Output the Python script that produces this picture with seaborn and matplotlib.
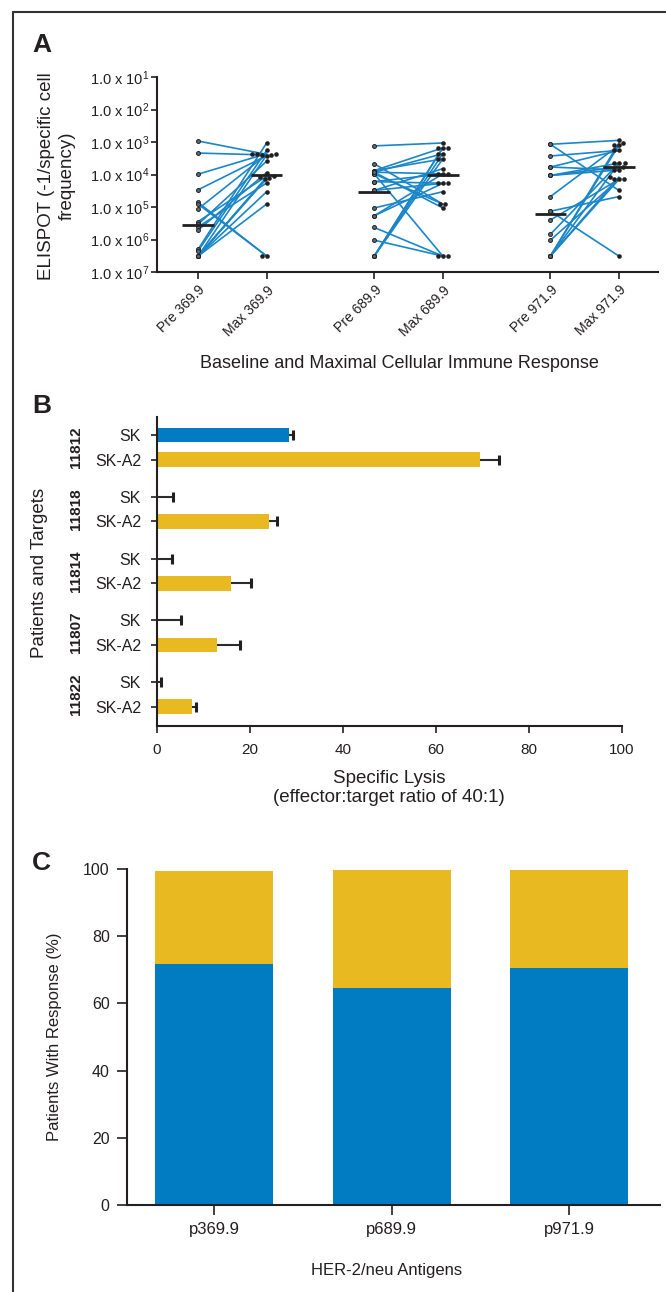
import numpy as np
import pandas as pd
import matplotlib
matplotlib.use("Agg")
import matplotlib.pyplot as plt
from matplotlib.lines import Line2D
import seaborn as sns

# ---------------- Panel A data: log10(1/specific cell frequency) ----------------
antigens_a = ["369.9", "689.9", "971.9"]
pre_369 = [2.97, 3.34, 3.99, 4.47, 4.86, 4.91, 5.06, 5.45, 5.53, 5.61, 5.71, 6.30, 6.35,
           6.51, 6.51, 6.51, 6.51, 6.51, 6.51]
max_369 = [3.38, 3.40, 3.36, 3.42, 6.51, 6.51, 3.38, 4.05, 3.59, 4.26, 3.94, 3.03, 3.26,
           3.40, 4.08, 4.13, 4.53, 4.91, 4.10]
pre_689 = [3.12, 3.67, 3.88, 3.93, 3.93, 3.98, 3.98, 3.88, 4.22, 4.49, 5.03, 5.27, 5.63,
           6.02, 6.51, 6.51, 6.51, 6.51, 4.22, 5.27, 4.49, 3.93]
max_689 = [3.03, 4.91, 3.18, 3.36, 3.98, 6.51, 4.91, 3.52, 4.27, 3.82, 4.53, 4.27, 6.51,
           6.51, 3.18, 3.36, 3.52, 3.18, 3.98, 3.98, 4.27, 5.03]
pre_971 = [3.07, 3.07, 3.43, 3.77, 4.03, 4.03, 4.68, 5.13, 5.13, 5.40, 5.84, 6.02,
           6.51, 6.51, 6.51, 6.51, 6.51, 4.03, 3.77]
max_971 = [2.95, 4.49, 3.26, 3.26, 3.77, 3.65, 3.10, 4.68, 6.51, 4.15, 3.65, 4.15,
           3.03, 3.10, 3.65, 4.08, 4.15, 3.86, 3.86]
pre_mean = [5.55, 4.55, 5.20]
max_mean = [4.03, 4.01, 3.77]
y_exponents = [1, 2, 3, 4, 5, 6, 7]

# ---------------- Panel B data: specific lysis (%) ----------------
patients = ["11812", "11818", "11814", "11807", "11822"]
targets = ["SK", "SK-A2"]
lysis_sk = [28.3, 0.0, 0.0, 0.0, 0.0]
lysis_ska2 = [69.4, 24.0, 15.9, 12.8, 7.5]
err_sk = [1.0, 3.45, 3.3, 5.1, 0.95]
err_ska2 = [4.1, 1.7, 4.4, 5.0, 0.8]
lysis_ticks = [0, 20, 40, 60, 80, 100]

# ---------------- Panel C data: patients with response (%) ----------------
peptides = ["p369.9", "p689.9", "p971.9"]
resp_blue = [71.7, 64.7, 70.6]
resp_yellow = [27.7, 35.0, 29.1]
pct_ticks = [0, 20, 40, 60, 80, 100]

# ---------------- style ----------------
BLUE = "#017cc2"
YELLOW = "#e8b920"
LINE_BLUE = "#1a86c8"
INK = "#231f20"

sns.set_theme(style="ticks")
plt.rcParams["font.family"] = ["Liberation Sans", "DejaVu Sans"]
plt.rcParams["mathtext.fontset"] = "custom"
plt.rcParams["mathtext.rm"] = "Liberation Sans"
plt.rcParams["mathtext.it"] = "Liberation Sans:italic"
plt.rcParams["mathtext.bf"] = "Liberation Sans:bold"
plt.rcParams["mathtext.default"] = "regular"
plt.rcParams["text.color"] = INK
plt.rcParams["axes.edgecolor"] = INK
plt.rcParams["xtick.color"] = INK
plt.rcParams["ytick.color"] = INK
plt.rcParams["axes.linewidth"] = 1.5

W, H = 666, 1292
fig = plt.figure(figsize=(W / 100, H / 100), dpi=100)
fig.patch.set_facecolor("white")


def ax_px(l, t, r, b):
    return fig.add_axes([l / W, 1 - b / H, (r - l) / W, (b - t) / H])


def ftext(x, y, s, **kw):
    return fig.text(x / W, 1 - y / H, s, **kw)


# ================= Panel A =================
axA = ax_px(157, 77, 658, 272)
group_gap = 2.57
pres = [pre_369, pre_689, pre_971]
maxs = [max_369, max_689, max_971]
rows = []
for g, (pr, mx) in enumerate(zip(pres, maxs)):
    for i, (a, b) in enumerate(zip(pr, mx)):
        rows.append(dict(pid=f"{g}_{i}", stage="Pre", x=g * group_gap, y=a))
        rows.append(dict(pid=f"{g}_{i}", stage="Max", x=g * group_gap + 1.0, y=b))
dfA = pd.DataFrame(rows)

sns.lineplot(data=dfA, x="x", y="y", units="pid", estimator=None, sort=False,
             color=LINE_BLUE, lw=1.2, legend=False, ax=axA, zorder=2)
sns.scatterplot(data=dfA[dfA.stage == "Pre"], x="x", y="y", s=8,
                color="#5b6b78", edgecolor="#222222", linewidth=0.7,
                legend=False, ax=axA, zorder=3)
sns.swarmplot(data=dfA[dfA.stage == "Max"], x="x", y="y", native_scale=True,
              size=3.3, color=INK, ax=axA, zorder=3)

pre_x = np.arange(3) * group_gap
max_x = pre_x + 1.0
axA.hlines(pre_mean, pre_x - 0.23, pre_x + 0.23, color=INK, lw=2, zorder=4)
axA.hlines(max_mean, max_x - 0.23, max_x + 0.23, color=INK, lw=2, zorder=4)

axA.set_ylim(7, 1)
axA.set_yticks(y_exponents)
axA.set_yticklabels([rf"1.0 x 10$^{{{e}}}$" for e in y_exponents])
axA.set_xlim(-0.6, 6.71)
xt = np.ravel(np.column_stack([pre_x, max_x]))
axA.set_xticks(xt)
xl = []
for a in antigens_a:
    xl += [f"Pre {a}", f"Max {a}"]
axA.set_xticklabels(xl)
plt.setp(axA.get_xticklabels(), rotation=45, ha="right", va="top", rotation_mode="anchor")
axA.tick_params(axis="y", length=4, width=1.2, pad=1.5, labelsize=10.5)
axA.tick_params(axis="x", length=5, width=1.2, pad=3, labelsize=10)
axA.set_xlabel("")
axA.set_ylabel("")
sns.despine(ax=axA)

# ================= Panel B =================
axB = ax_px(157, 417, 622, 726)
vals = []
for s, a in zip(lysis_sk, lysis_ska2):
    vals += [s, a]
dfB = pd.DataFrame(dict(patient=np.repeat(patients, 2), target=targets * len(patients), value=vals))
sns.barplot(data=dfB, x="value", y="patient", hue="target", order=patients, hue_order=targets,
            palette=[BLUE, YELLOW], orient="h", width=0.8, gap=0.4, saturation=1,
            linewidth=0, errorbar=None, legend=False, ax=axB)
pos = np.arange(len(patients))
for v, e, off in [(lysis_sk, err_sk, -0.2), (lysis_ska2, err_ska2, 0.2)]:
    v = np.asarray(v)
    ends = v + np.asarray(e)
    axB.hlines(pos + off, v, ends, color="#2b2b2b", lw=1.5, zorder=3)
    axB.plot(ends, pos + off, ls="none", marker="|", ms=7, mew=2.2, color=INK, zorder=4)
yt = np.ravel(np.column_stack([pos - 0.2, pos + 0.2]))
axB.set_yticks(yt)
axB.set_yticklabels(targets * len(patients))
axB.set_ylim(4.51, -0.49)
axB.set_xlim(0, 100)
axB.set_xticks(lysis_ticks)
axB.tick_params(axis="y", length=4.5, width=1.2, pad=7, labelsize=11.5)
axB.tick_params(axis="x", length=5, width=1.2, pad=7, labelsize=11)
axB.set_xlabel("")
axB.set_ylabel("")
trB = axB.get_yaxis_transform()
for i, p in enumerate(patients):
    axB.text((76 - 157) / 465, i, p, transform=trB, rotation=90, ha="center", va="center",
             fontsize=11, fontweight="bold", color=INK)
sns.despine(ax=axB)

# ================= Panel C =================
axC = ax_px(127, 869, 660, 1205)
dfC = pd.DataFrame(dict(peptide=peptides, blue=resp_blue,
                        total=np.array(resp_blue) + np.array(resp_yellow)))
sns.barplot(data=dfC, x="peptide", y="total", color=YELLOW, width=0.665, saturation=1,
            linewidth=0, errorbar=None, ax=axC)
sns.barplot(data=dfC, x="peptide", y="blue", color=BLUE, width=0.665, saturation=1,
            linewidth=0, errorbar=None, ax=axC)
axC.set_ylim(0, 100)
axC.set_yticks(pct_ticks)
axC.set_xlim(-0.49, 2.51)
axC.tick_params(axis="y", length=7, width=1.2, pad=5.5, labelsize=11.5)
axC.tick_params(axis="x", length=7, width=1.2, pad=5, labelsize=12)
axC.set_xlabel("")
axC.set_ylabel("")
sns.despine(ax=axC)

# ================= labels =================
ftext(32, 52, "A", fontsize=19, fontweight="bold", ha="left", va="baseline")
ftext(32, 413, "B", fontsize=19, fontweight="bold", ha="left", va="baseline")
ftext(32, 870, "C", fontsize=19, fontweight="bold", ha="left", va="baseline")

ftext(57, 176, "ELISPOT (-1/specific cell\nfrequency)", rotation=90, ha="center", va="center",
      fontsize=13.5, linespacing=1.3, multialignment="center")
ftext(399, 364, "Baseline and Maximal Cellular Immune Response", ha="center", va="center",
      fontsize=13)
ftext(40, 573, "Patients and Targets", rotation=90, ha="center", va="center", fontsize=13.5)
ftext(389, 788, "Specific Lysis\n(effector:target ratio of 40:1)", ha="center", va="center",
      fontsize=13.5, linespacing=1.2, multialignment="center")
ftext(55, 1037, "Patients With Response (%)", rotation=90, ha="center", va="center", fontsize=12)
ftext(387, 1271, "HER-2/neu Antigens", ha="center", va="center", fontsize=12)

# frame lines (top and left)
fig.add_artist(Line2D([13 / W, 13 / W], [0, 1 - 12 / H], transform=fig.transFigure,
                      color="#333333", lw=1.5))
fig.add_artist(Line2D([13 / W, 1], [1 - 12 / H, 1 - 12 / H], transform=fig.transFigure,
                      color="#333333", lw=1.5))

fig.savefig("out.png", dpi=100, facecolor="white")
